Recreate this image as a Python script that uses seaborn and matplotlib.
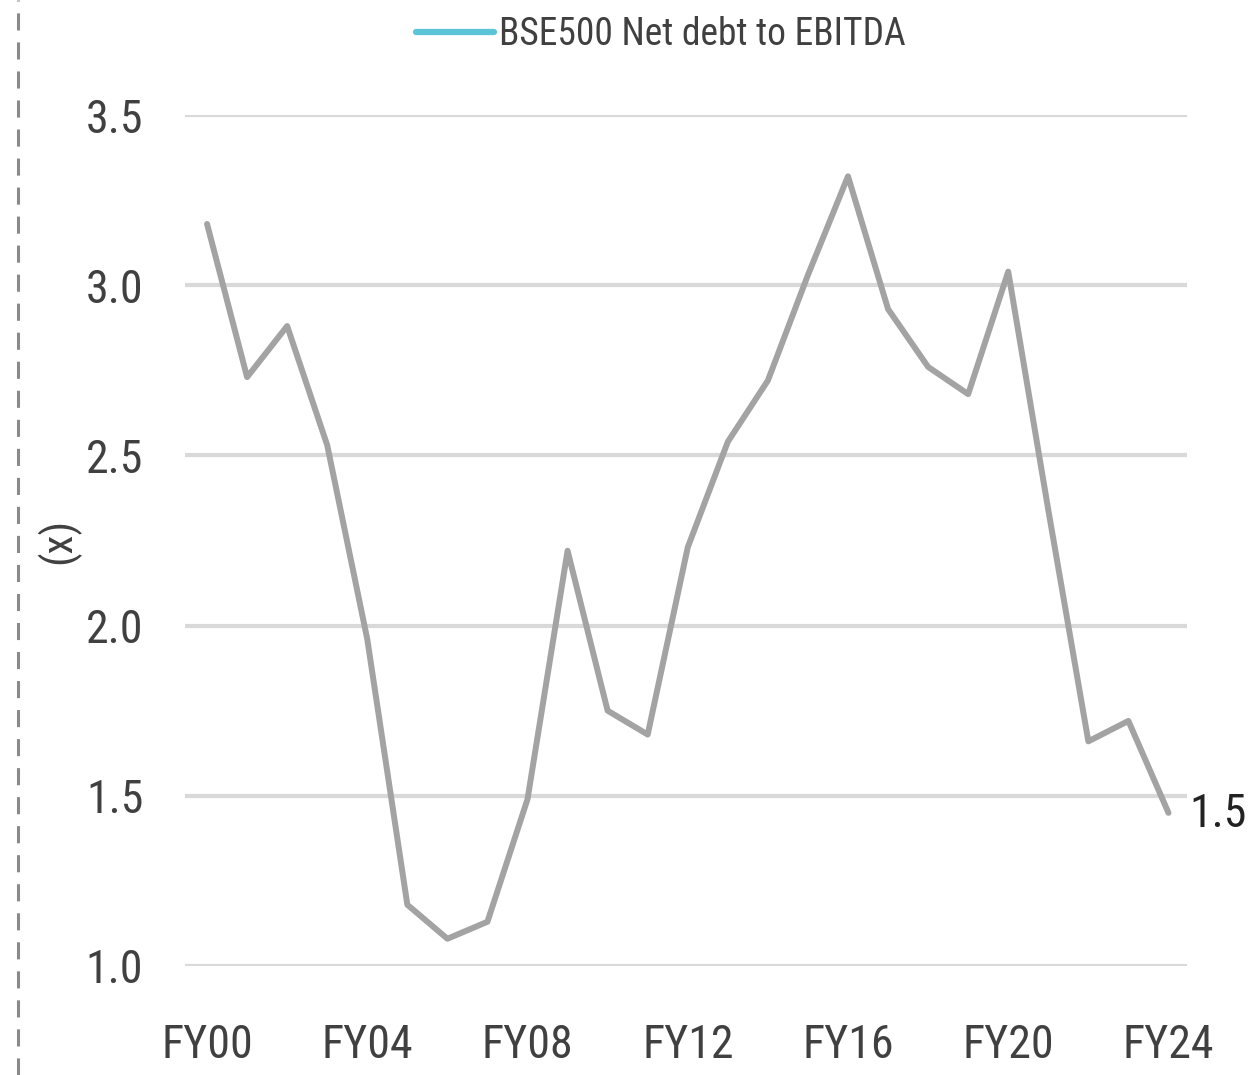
import numpy as np
import pandas as pd
import matplotlib
matplotlib.use("Agg")
import matplotlib.pyplot as plt
from matplotlib.lines import Line2D
import seaborn as sns
import warnings

warnings.filterwarnings("ignore")
sns.set_theme(style="white")
plt.rcParams["font.family"] = ["Roboto Condensed", "Lato", "DejaVu Sans"]

# ---- data ----
years = [f"FY{y:02d}" for y in range(0, 25)]
net_debt_ebitda = [3.18, 2.73, 2.88, 2.53, 1.96, 1.18, 1.08, 1.13, 1.49, 2.22,
                   1.75, 1.68, 2.23, 2.54, 2.72, 3.03, 3.32, 2.93, 2.76, 2.68,
                   3.04, 2.34, 1.66, 1.72, 1.45]
tick_years = ["FY00", "FY04", "FY08", "FY12", "FY16", "FY20", "FY24"]
y_ticks = [1.0, 1.5, 2.0, 2.5, 3.0, 3.5]
series_name = "BSE500 Net debt to EBITDA"
end_label = "1.5"

df = pd.DataFrame({"year": years, "value": net_debt_ebitda})
df["pos"] = np.arange(len(df))

LINE_GREY = "#A3A3A3"
LEGEND_CYAN = "#5BC5D7"
TEXT = "#404040"
GRID = "#D9D9D9"

fig = plt.figure(figsize=(12.56, 10.75), dpi=100)
ax = fig.add_axes([0.1473, 0.1014, 0.798, 0.7916])

for yt in y_ticks:
    ax.axhline(yt, color=GRID, lw=3.0, zorder=1)

sns.lineplot(data=df, x="pos", y="value", ax=ax, color=LINE_GREY,
             lw=4.3, zorder=3, legend=False)

ax.set_xlim(-0.55, 24.47)
ax.set_ylim(1.0, 3.5)
ax.set_yticks(y_ticks)
ax.set_yticklabels([f"{v:.1f}" for v in y_ticks], fontsize=33, color=TEXT)
ax.set_xticks([years.index(t) for t in tick_years])
ax.set_xticklabels(tick_years, fontsize=33, color=TEXT)
ax.tick_params(axis="both", length=0)
ax.tick_params(axis="y", pad=30)
ax.tick_params(axis="x", pad=41)
ax.set_xlabel("")
ax.set_ylabel("(x)", fontsize=31, color=TEXT, labelpad=4)
for s in ax.spines.values():
    s.set_visible(False)

# value label at the last point
ax.annotate(end_label, xy=(df["pos"].iloc[-1], df["value"].iloc[-1]),
            xytext=(15, -1), textcoords="offset points", va="center", ha="left",
            fontsize=33, color="#222222", annotation_clip=False)

# legend with cyan handle
handle = Line2D([], [], color=LEGEND_CYAN, lw=4.5)
fig.legend([handle], [series_name], loc="center", bbox_to_anchor=(0.526, 0.968),
           frameon=False, fontsize=27, handlelength=2.1, handletextpad=0.12,
           labelcolor=TEXT)

# dashed border on the left
fig.add_artist(Line2D([18 / 1256, 18 / 1256], [0.0, 1.0], transform=fig.transFigure,
                      color="#8A8A8A", lw=2.2, ls=(0, (5.6, 3.9))))

fig.savefig("out.png", dpi=100)
